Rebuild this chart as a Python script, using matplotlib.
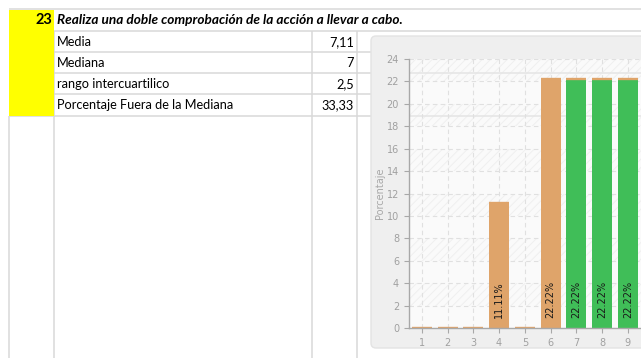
import matplotlib
matplotlib.use("Agg")
import matplotlib.pyplot as plt
from matplotlib.patches import Rectangle, FancyBboxPatch
from matplotlib.transforms import blended_transform_factory

# ---- data -------------------------------------------------------------
item_number = "23"
item_title = "Realiza una doble comprobación de la acción a llevar a cabo."
stat_names = ["Media", "Mediana", "rango intercuartilico", "Porcentaje Fuera de la Mediana"]
stat_values = ["7,11", "7", "2,5", "33,33"]

categories = [1, 2, 3, 4, 5, 6, 7, 8, 9]
percentages = [0, 0, 0, 11.11, 0, 22.22, 22.22, 22.22, 22.22]
outside_median = [False, False, False, False, False, False, True, True, True]
y_ticks = list(range(0, 25, 2))
y_label = "Porcentaje"

# ---- styling ----------------------------------------------------------
W, H = 641, 358
ORANGE = "#dfa46a"
GREEN = "#40be58"
GRID = "#d9d9d9"
SHEET_FONT = "Lato"

fig = plt.figure(figsize=(W / 100, H / 100), dpi=100)
fig.patch.set_facecolor("white")

# sheet layer in pixel coordinates
sheet = fig.add_axes([0, 0, 1, 1])
sheet.set_xlim(0, W)
sheet.set_ylim(H, 0)
sheet.axis("off")

# yellow item cell
sheet.add_patch(Rectangle((9, 10), 45, 106, facecolor="#ffff00", edgecolor="none", zorder=1))

# cell borders
hlines = [(9, 9, W), (31, 54, W), (52, 54, W), (73, 54, W), (94, 54, W), (116, 9, W)]
for y, x0, x1 in hlines:
    sheet.plot([x0, x1], [y, y], color=GRID, lw=1.1, zorder=0.5, solid_capstyle="butt")
vlines = [(9, 116), (54, 31), (312, 31), (357, 31)]
for x, y0 in vlines:
    sheet.plot([x, x], [y0, H], color=GRID, lw=1.1, zorder=0.5, solid_capstyle="butt")

# texts
sheet.text(52, 20.5, item_number, ha="right", va="center", fontsize=10.5,
           fontweight="bold", family=SHEET_FONT, color="black", zorder=2)
sheet.text(57, 20.5, item_title, ha="left", va="center", fontsize=9.8,
           fontweight="bold", fontstyle="italic", family=SHEET_FONT, color="black", zorder=2)
row_centers = [42, 63, 84, 105]
for yc, name, val in zip(row_centers, stat_names, stat_values):
    sheet.text(57, yc, name, ha="left", va="center", fontsize=9.2,
               family=SHEET_FONT, color="black", zorder=2)
    sheet.text(354, yc, val, ha="right", va="center", fontsize=9.2,
               family=SHEET_FONT, color="black", zorder=2)

# chart panel
sheet.add_patch(FancyBboxPatch((371, 36), 400, 312,
                               boxstyle="round,pad=0,rounding_size=5",
                               facecolor="#efefef", edgecolor="#e3e3e3", lw=1, zorder=3))

# ---- bar chart --------------------------------------------------------
left_px, right_px, top_px, bottom_px = 409, 666.5, 59, 328
ax = fig.add_axes([left_px / W, (H - bottom_px) / H,
                   (right_px - left_px) / W, (bottom_px - top_px) / H])
ax.set_facecolor("#fafafa")
ax.set_xlim(0.5, len(categories) + 1.5)
ax.set_ylim(0, 24)

# alternating hatched bands
plt.rcParams["hatch.linewidth"] = 0.7
for y0 in y_ticks[1:-1:2]:
    ax.axhspan(y0, y0 + 2, facecolor="none", edgecolor="#efefef",
               hatch="////", lw=0, zorder=0.2)

# sheet borders showing through the chart
through = blended_transform_factory(ax.transAxes, sheet.transData)
for y in (73, 116):
    ax.plot([0, 1], [y, y], color="#e6e6e6", lw=1.2, transform=through, zorder=0.3)

ax.set_yticks(y_ticks)
ax.set_xticks(categories)
ax.grid(True, color="#e0e0e0", lw=0.8, ls=(0, (4, 3)), zorder=0.4)
ax.set_axisbelow(True)

bar_w = 0.78
colors = [GREEN if o else ORANGE for o in outside_median]
ax.bar(categories, percentages, width=bar_w, color=colors, edgecolor="none", zorder=2)
ax.hlines(percentages, [c - bar_w / 2 for c in categories],
          [c + bar_w / 2 for c in categories], color=ORANGE, lw=1.7, zorder=2.5)

for c, p in zip(categories, percentages):
    if p > 0:
        ax.text(c, 0.9, f"{p:.2f}%", rotation=90, ha="center", va="bottom",
                fontsize=7, color="#1a1a1a", zorder=3)

for s in ("top", "right"):
    ax.spines[s].set_visible(False)
for s in ("left", "bottom"):
    ax.spines[s].set_color("#a8a8a8")
    ax.spines[s].set_linewidth(1)
ax.tick_params(axis="both", colors="#a8a8a8", labelcolor="#a0a0a0",
               labelsize=7, length=3.6, width=0.8, pad=3.6)
ax.set_ylabel(y_label, color="#a8a8a8", fontsize=7, labelpad=1)

fig.savefig("out.png", dpi=100, facecolor="white")
